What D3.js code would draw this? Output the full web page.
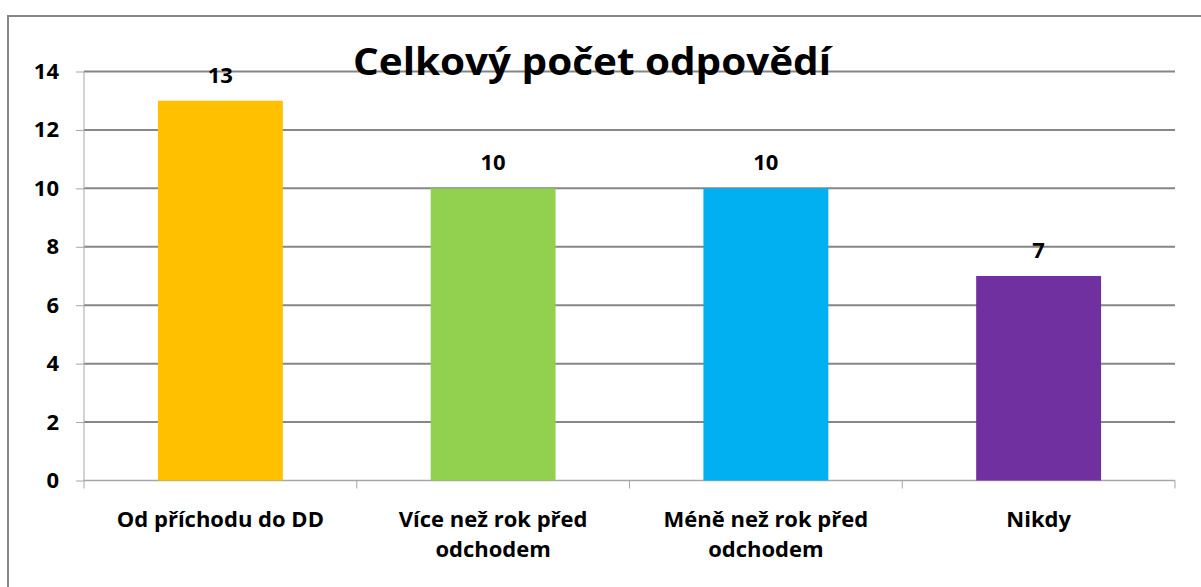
<!DOCTYPE html>
<html>
<head>
<meta charset="utf-8">
<script src="https://cdnjs.cloudflare.com/ajax/libs/d3/7.8.5/d3.min.js"></script>
<style>
  body { margin:0; background:#fff; }
  text { font-family: "Open Sans", "DejaVu Sans", sans-serif; font-weight:bold; fill:#000; }
</style>
</head>
<body>
<svg id="chart" width="1201" height="587"></svg>
<script>
var categories = ["Od příchodu do DD", "Více než rok před odchodem", "Méně než rok před odchodem", "Nikdy"];
var values = [13, 10, 10, 7];
var colors = ["#FFC000", "#92D050", "#00B0F0", "#7030A0"];
var yTicks = [0, 2, 4, 6, 8, 10, 12, 14];
var title = "Celkový počet odpovědí";

var svg = d3.select("#chart");
var m = {left:84, right:1175, top:71.5, bottom:480.5};

// outer frame
svg.append("rect")
   .attr("x",8).attr("y",16).attr("width",1200).attr("height",600)
   .attr("fill","none").attr("stroke","#868686").attr("stroke-width",2);

var x = d3.scaleBand().domain(categories).range([m.left, m.right]).padding(0);
var y = d3.scaleLinear().domain([0,14]).range([m.bottom, m.top]);

// gridlines
svg.append("g").selectAll("line")
   .data(yTicks.filter(function(d){ return d>0; }))
   .enter().append("line")
   .attr("x1",m.left).attr("x2",m.right)
   .attr("y1",function(d){ return y(d); }).attr("y2",function(d){ return y(d); })
   .attr("stroke","#868686").attr("stroke-width",2);

// y axis
var ya = svg.append("g").attr("transform","translate(" + m.left + ",0)")
   .call(d3.axisLeft(y).tickValues(yTicks).tickSize(8).tickPadding(17));
ya.select(".domain").attr("stroke","#a6a6a6").attr("d","M0," + m.top + "V" + m.bottom);
ya.selectAll(".tick line").attr("stroke","#a6a6a6");
ya.selectAll("text").style("font-size","22px").attr("fill","#000");

// x axis line + ticks at boundaries
svg.append("line").attr("x1",m.left).attr("x2",m.right)
   .attr("y1",m.bottom).attr("y2",m.bottom).attr("stroke","#a6a6a6").attr("stroke-width",1.5);
var bounds = categories.map(function(c){ return x(c); }).concat([m.right]);
svg.append("g").selectAll("line").data(bounds).enter().append("line")
   .attr("x1",function(d){ return d; }).attr("x2",function(d){ return d; })
   .attr("y1",m.bottom).attr("y2",m.bottom+8)
   .attr("stroke","#a6a6a6");

// bars
var bw = x.bandwidth()*0.458;
svg.append("g").selectAll("rect").data(values).enter().append("rect")
   .attr("x",function(d,i){ return x(categories[i]) + x.bandwidth()/2 - bw/2; })
   .attr("y",function(d){ return y(d); })
   .attr("width",bw)
   .attr("height",function(d){ return y(0)-y(d); })
   .attr("fill",function(d,i){ return colors[i]; });

// value labels
svg.append("g").selectAll("text").data(values).enter().append("text")
   .attr("x",function(d,i){ return x(categories[i]) + x.bandwidth()/2; })
   .attr("y",function(d){ return y(d) - 18; })
   .attr("text-anchor","middle")
   .style("font-size","22px")
   .text(function(d){ return d; });

// category labels
svg.append("g").selectAll("text").data(categories).enter().append("text")
   .attr("x",function(d){ return x(d) + x.bandwidth()/2; })
   .attr("y",527)
   .attr("text-anchor","middle")
   .style("font-size","22px")
   .text(function(d){ return d; })
   .call(wrap, 245);

// title
svg.append("text")
   .attr("x",592).attr("y",75)
   .attr("text-anchor","middle")
   .style("font-size","38px")
   .attr("textLength",478).attr("lengthAdjust","spacingAndGlyphs")
   .text(title);

function wrap(sel, width){
   sel.each(function(){
      var t = d3.select(this), words = t.text().split(/\s+/), line = [], lineNo = 0;
      var xx = t.attr("x"), yy = +t.attr("y");
      t.text(null);
      var tspan = t.append("tspan").attr("x",xx).attr("y",yy);
      words.forEach(function(w){
         line.push(w);
         tspan.text(line.join(" "));
         if (tspan.node().getComputedTextLength() > width && line.length > 1) {
            line.pop();
            tspan.text(line.join(" "));
            line = [w];
            lineNo++;
            tspan = t.append("tspan").attr("x",xx).attr("y",yy + lineNo*30).text(w);
         }
      });
   });
}
</script>
</body>
</html>
